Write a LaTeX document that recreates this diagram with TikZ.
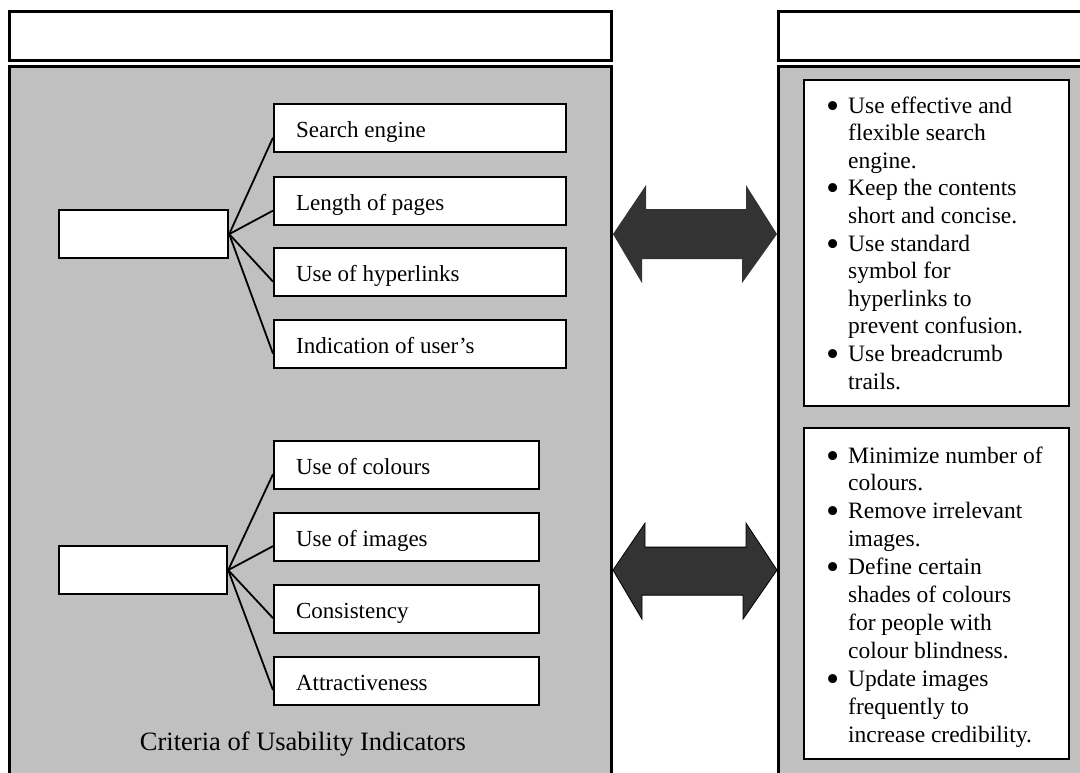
\documentclass[tikz,border=0pt]{standalone}
\usepackage{fontspec}
\setmainfont{Liberation Serif}
\usetikzlibrary{calc}
\definecolor{panelgray}{HTML}{C0C0C0}
\definecolor{arrowdark}{HTML}{333333}
\begin{document}
\begin{tikzpicture}[x=1pt,y=-1pt,
  header/.style={draw=black, line width=2.5pt, fill=white, anchor=north west, inner sep=0pt, minimum height=49pt},
  panel/.style={draw=black, line width=3pt, fill=panelgray, anchor=north west, inner sep=0pt, minimum height=730pt},
  tipbox/.style={draw=black, line width=2.2pt, fill=white, anchor=north west, inner sep=0pt},
  parentbox/.style={draw=black, line width=2.2pt, fill=white, anchor=north west, inner sep=0pt, minimum width=169pt, minimum height=48pt},
  childbox/.style={draw=black, line width=2.2pt, fill=white, anchor=north west, inner xsep=22pt, inner ysep=0pt,
     minimum height=48pt, text height=20pt, text depth=2pt,
     font=\fontsize{23}{27}\selectfont},
  link/.style={draw=black, line width=1.8pt},
  bigarrow/.style={fill=arrowdark},
  tiptext/.style={anchor=base west, inner sep=0pt},
]
\useasboundingbox (0,0) rectangle (1080,772);
\clip (0,0) rectangle (1080,772);

% headers and panels
\node[header, minimum width=602pt] (hL) at (8,10) {};
\node[header, minimum width=340pt] (hR) at (777,10) {};
\node[panel, minimum width=602pt] (pL) at (8,65) {};
\node[panel, minimum width=340pt] (pR) at (777,65) {};

% right inner boxes
\node[tipbox, minimum width=265pt, minimum height=326pt] (r1) at (803,79) {};
\node[tipbox, minimum width=265pt, minimum height=331pt] (r2) at (803,427) {};

\newcommand{\bul}{\makebox[22pt][l]{\raisebox{-5pt}{\scalebox{1.6}{\textbullet}}}}
\newcommand{\ind}{\hspace*{22pt}}
\node[tiptext] (t1) at (826,113) {\parbox[t]{250pt}{\fontsize{23.5}{27.6}\selectfont
\bul Use effective and\\
\ind flexible search\\
\ind engine.\\
\bul Keep the contents\\
\ind short and concise.\\
\bul Use standard\\
\ind symbol for\\
\ind hyperlinks to\\
\ind prevent confusion.\\
\bul Use breadcrumb\\
\ind trails.}};
\node[tiptext] (t2) at (826,463) {\parbox[t]{250pt}{\fontsize{23.5}{27.9}\selectfont
\bul Minimize number of\\
\ind colours.\\
\bul Remove irrelevant\\
\ind images.\\
\bul Define certain\\
\ind shades of colours\\
\ind for people with\\
\ind colour blindness.\\
\bul Update images\\
\ind frequently to\\
\ind increase credibility.}};

% left tree: group 1
\node[parentbox] (g1) at (58,209) {};
\node[childbox] (c1) at (273,103) {\makebox[248pt][l]{Search engine}};
\node[childbox] (c2) at (273,176) {\makebox[248pt][l]{Length of pages}};
\node[childbox] (c3) at (273,247) {\makebox[248pt][l]{Use of hyperlinks}};
\node[childbox] (c4) at (273,319) {\makebox[248pt][l]{Indication of user’s}};
\foreach \c in {c1,c2,c3,c4}
  \draw[link] (g1.east) -- ($(\c.north west)!0.69!(\c.south west)$);

% left tree: group 2
\node[parentbox, minimum width=168pt] (g2) at (58,545) {};
\node[childbox] (d1) at (273,440) {\makebox[221pt][l]{Use of colours}};
\node[childbox] (d2) at (273,512) {\makebox[221pt][l]{Use of images}};
\node[childbox] (d3) at (273,584) {\makebox[221pt][l]{Consistency}};
\node[childbox] (d4) at (273,656) {\makebox[221pt][l]{Attractiveness}};
\foreach \c in {d1,d2,d3,d4}
  \draw[link] (g2.east) -- ($(\c.north west)!0.68!(\c.south west)$);

\node[anchor=base, inner sep=0pt, font=\fontsize{26.5}{32}\selectfont] (cap) at (303,750) {Criteria of Usability Indicators};

% double arrows
\coordinate (u1) at (pL.east |- g1.east);
\coordinate (u2) at (pR.west |- g1.east);
\fill[bigarrow] (u1) -- ++(33,-49) -- ++(0,24) -- ++(100,0) -- ++(0,-24) -- (u2)
  -- ++(-35,49) -- ++(0,-24) -- ++(-100,0) -- ++(0,24) -- cycle;
\coordinate (v1) at (pL.east |- g2.east);
\coordinate (v2) at (pR.west |- g2.east);
\filldraw[bigarrow, draw=black, line width=0.8pt] (v1) -- ++(32,-47) -- ++(0,24) -- ++(101,0) -- ++(0,-24) -- (v2)
  -- ++(-34,49) -- ++(0,-24) -- ++(-101,0) -- ++(0,24) -- cycle;
\end{tikzpicture}
\end{document}
